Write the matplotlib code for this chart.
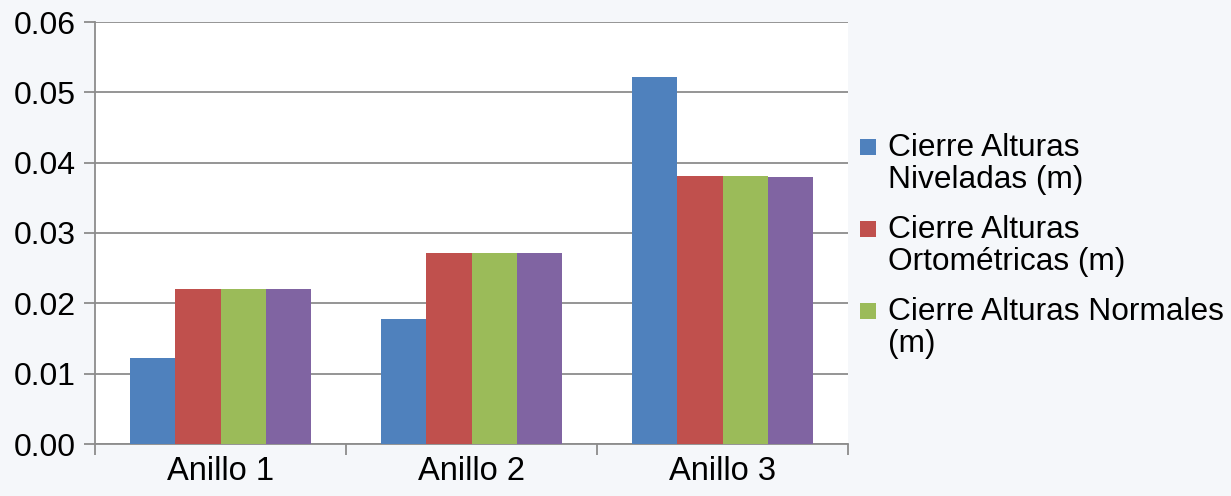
import matplotlib
matplotlib.use("Agg")
import matplotlib.pyplot as plt
from matplotlib.patches import Rectangle
from matplotlib.ticker import FormatStrFormatter, FixedLocator
import numpy as np

plt.rcParams['font.family'] = ['Liberation Sans', 'DejaVu Sans']

categories = ["Anillo 1", "Anillo 2", "Anillo 3"]
niveladas = [0.0122, 0.0178, 0.0522]
ortometricas = [0.0220, 0.0272, 0.0381]
normales = [0.0220, 0.0272, 0.0381]
cuarta_serie = [0.0220, 0.0272, 0.0380]

series = [niveladas, ortometricas, normales, cuarta_serie]
colors = ["#4F81BD", "#C0504D", "#9BBB59", "#8064A2"]
legend_labels = ["Cierre Alturas\nNiveladas (m)",
                 "Cierre Alturas\nOrtométricas (m)",
                 "Cierre Alturas Normales\n(m)"]
yticks = [0.00, 0.01, 0.02, 0.03, 0.04, 0.05, 0.06]

fig = plt.figure(figsize=(12.31, 4.96), dpi=100, facecolor="#f5f7fa")
ax = fig.add_axes([95 / 1231, 1 - 444 / 496, (848 - 95) / 1231, (444 - 22) / 496])
ax.set_facecolor("white")

x = np.arange(len(categories))
w = 0.181
for i, (vals, c) in enumerate(zip(series, colors)):
    ax.bar(x + (i - 1.5) * w, vals, width=w, color=c, linewidth=0, zorder=3)

grid_c = "#8c8c8c"
ax.set_xlim(-0.5, len(categories) - 0.5)
ax.set_ylim(0, 0.06)
ax.set_yticks(yticks)
ax.yaxis.set_major_formatter(FormatStrFormatter('%.2f'))
ax.yaxis.grid(True, color=grid_c, linewidth=1.3, zorder=0)
ax.set_axisbelow(True)

ax.set_xticks(x)
ax.set_xticklabels(categories)
ax.xaxis.set_minor_locator(FixedLocator(np.arange(-0.5, len(categories), 1.0)))
ax.tick_params(axis='x', which='major', length=0, pad=9, labelsize=23.5)
ax.tick_params(axis='x', which='minor', length=8, width=1.3, color=grid_c)
ax.tick_params(axis='y', length=8, width=1.3, color=grid_c, pad=6, labelsize=23)

for s in ['top', 'right']:
    ax.spines[s].set_visible(False)
for s in ['left', 'bottom']:
    ax.spines[s].set_color(grid_c)
    ax.spines[s].set_linewidth(1.3)

# legend drawn at the right of the plot area
W, H = 1231, 496
top_y = 147
for k, (lab, c) in enumerate(zip(legend_labels, colors[:3])):
    yc = top_y + k * 82
    fig.patches.append(Rectangle((860 / W, 1 - (yc + 8) / H), 16 / W, 16 / H,
                                 transform=fig.transFigure, facecolor=c,
                                 edgecolor="none"))
    fig.text(888 / W, 1 - (yc - 14) / H, lab, fontsize=22.8, va='top', ha='left',
             linespacing=1.1)

fig.savefig("out.png", dpi=100, facecolor=fig.get_facecolor())
